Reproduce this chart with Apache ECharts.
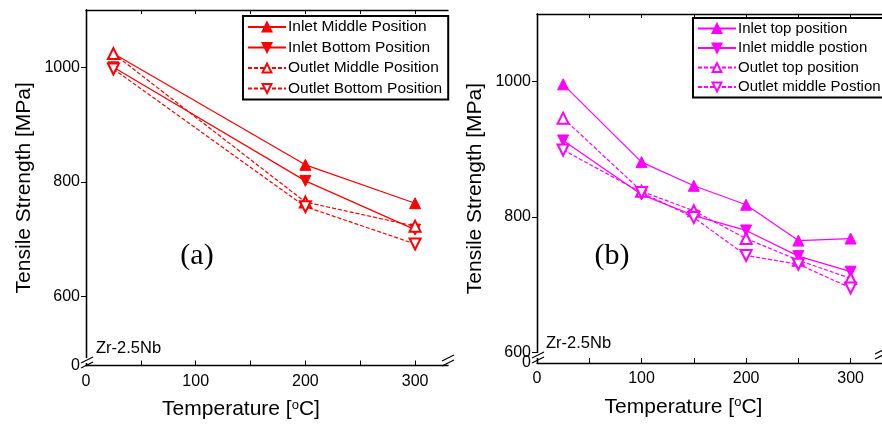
<!DOCTYPE html>
<html>
<head>
<meta charset="utf-8">
<script src="https://cdn.jsdelivr.net/npm/echarts@6/dist/echarts.min.js"></script>
<style>
  html, body { margin: 0; padding: 0; background: #fff; }
  #chart { width: 882px; height: 425px; }
</style>
</head>
<body>
<div id="chart"></div>
<script>
// panel (a) - red, 3 temperatures
var tempA = [25, 200, 300];
var inletMiddleA = [1024, 830, 763];
var inletBottomA = [1000, 802, 717];
var outletMiddleA = [1024, 765, 723];
var outletBottomA = [997, 757, 692];

// panel (b) - magenta, 6 temperatures
var tempB = [25, 100, 150, 200, 250, 300];
var inletTopB = [996, 881, 846, 818, 765, 768];
var inletMiddleB = [913, 833, 802, 780, 742, 719];
var outletTopB = [946, 838, 809, 768, 736, 709];
var outletMiddleB = [899, 836, 799, 743, 730, 695];

var xTicks = [0, 50, 100, 150, 200, 250, 300];
var xLabels = [0, 100, 200, 300];
var yTicks = [600, 800, 1000];
var yLabels = [600, 800, 1000];
var yZeroA = 480;   // bottom of broken axis (a), labelled 0
var yZeroB = 584;   // bottom of broken axis (b), labelled 0

var RED = '#ff0000';
var MAG = '#ff00ff';
var FONT = 'Liberation Sans, Arial, sans-serif';

function pts(xs, ys) {
	return xs.map(function (x, i) { return [x, ys[i]]; });
}

function mkSeries(name, xs, ys, color, filled, down, dashed, idx) {
	return {
		name: name,
		type: 'line',
		xAxisIndex: idx,
		yAxisIndex: idx * 3 / 2,
		data: pts(xs, ys),
		symbol: filled ? 'triangle' : 'emptyTriangle',
		symbolSize: 11,
		symbolRotate: down ? 180 : 0,
		showAllSymbol: true,
		itemStyle: { color: color, borderColor: color, borderWidth: 1 },
		lineStyle: { color: color, width: 1.2, type: dashed ? [4, 2] : 'solid' },
		z: filled ? 2 : 3
	};
}

function bottomX(grid) {
	return {
		gridIndex: grid, type: 'value', min: 0, max: 330, position: 'bottom',
		axisLine: { lineStyle: { color: '#000', width: 1.3 } },
		axisTick: { inside: true, length: 5, customValues: xTicks, lineStyle: { color: '#000' } },
		axisLabel: {
			customValues: xLabels, color: '#000', fontSize: 16, fontFamily: FONT, margin: 8,
			formatter: function (v) { return String(v); }
		},
		splitLine: { show: false },
		name: 'Temperature [{sup|o}C]',
		nameLocation: 'middle',
		nameGap: 33,
		nameTextStyle: {
			color: '#000', fontSize: 21, fontFamily: FONT, padding: [0, 52, 0, 0],
			rich: { sup: { fontSize: 13, verticalAlign: 'top', padding: [0, 0, 9, 0], fontFamily: FONT, color: '#000' } }
		}
	};
}

function topX(grid) {
	return {
		gridIndex: grid, type: 'value', min: 0, max: 330, position: 'top',
		axisLine: { lineStyle: { color: '#000', width: 1.3 } },
		axisTick: { inside: true, length: 4, customValues: xTicks, lineStyle: { color: '#000' } },
		axisLabel: { show: false },
		splitLine: { show: false }
	};
}

function leftY(grid, min) {
	return {
		gridIndex: grid, type: 'value', min: min, max: 1100, position: 'left',
		axisLine: { lineStyle: { color: '#000', width: 1.3 } },
		axisTick: { inside: false, length: 5, customValues: yTicks, lineStyle: { color: '#000' } },
		axisLabel: {
			customValues: yLabels, color: '#000', fontSize: 16, fontFamily: FONT, margin: 6,
			formatter: function (v) { return String(v); }
		},
		splitLine: { show: false },
		name: 'Tensile Strength [MPa]',
		nameLocation: 'middle',
		nameGap: 51,
		nameTextStyle: { color: '#000', fontSize: 21, fontFamily: FONT }
	};
}

function rightY(grid, min) {
	return {
		gridIndex: grid, type: 'value', min: min, max: 1100, position: 'right',
		axisLine: { lineStyle: { color: '#000', width: 1.3 } },
		axisTick: { inside: true, length: 4, customValues: yTicks, lineStyle: { color: '#000' } },
		axisLabel: { show: false },
		splitLine: { show: false }
	};
}

/* only carries the "0" under the axis break */
function zeroY(grid, min) {
	return {
		gridIndex: grid, type: 'value', min: min, max: 1100, position: 'left',
		axisLine: { show: false },
		axisTick: { show: false },
		axisLabel: {
			customValues: [min], color: '#000', fontSize: 16, fontFamily: FONT, margin: 6,
			formatter: function () { return '0'; }
		},
		splitLine: { show: false }
	};
}

/* small // marks for the broken axes */
function breakMark(x, y) {
	return [
		{ type: 'rect', shape: { x: x - 3, y: y - 4, width: 6, height: 5 }, style: { fill: '#fff' }, z: 100 },
		{ type: 'line', shape: { x1: x - 6, y1: y + 1, x2: x + 6, y2: y - 5 }, style: { stroke: '#000', lineWidth: 1.2 }, z: 101 },
		{ type: 'line', shape: { x1: x - 6, y1: y + 6, x2: x + 6, y2: y }, style: { stroke: '#000', lineWidth: 1.2 }, z: 101 }
	];
}

function legendCfg(names, left, top, fs) {
	return {
		data: names,
		orient: 'vertical',
		left: left,
		top: top,
		padding: [3, 6, 3, 4],
		itemWidth: 38,
		itemHeight: 11,
		itemGap: 4.5,
		borderColor: '#000',
		borderWidth: 2,
		backgroundColor: '#fff',
		textStyle: { color: '#000', fontSize: fs, lineHeight: 14, fontFamily: FONT, padding: [0, 0, 0, -3] }
	};
}

var chart = echarts.init(document.getElementById('chart'));

var graphics = []
	.concat(breakMark(87, 362))
	.concat(breakMark(448, 360))
	.concat(breakMark(538, 357))
	.concat(breakMark(881, 353))
	.concat([
		{ type: 'text', x: 197, y: 256, style: { text: '(a)', font: '30px "Liberation Serif", serif', fill: '#000', textAlign: 'center', textVerticalAlign: 'middle' }, z: 50 },
		{ type: 'text', x: 612, y: 256, style: { text: '(b)', font: '30px "Liberation Serif", serif', fill: '#000', textAlign: 'center', textVerticalAlign: 'middle' }, z: 50 },
		{ type: 'text', x: 96, y: 348, style: { text: 'Zr-2.5Nb', font: '16.5px "Liberation Sans", Arial, sans-serif', fill: '#000', textVerticalAlign: 'middle' }, z: 50 },
		{ type: 'text', x: 546, y: 343, style: { text: 'Zr-2.5Nb', font: '16.5px "Liberation Sans", Arial, sans-serif', fill: '#000', textVerticalAlign: 'middle' }, z: 50 }
	]);

var option = {
	animation: false,
	backgroundColor: '#fff',
	grid: [
		{ left: 86, top: 10, width: 362, height: 358 },
		{ left: 537, top: 14, width: 346, height: 349 }
	],
	legend: [
		legendCfg(['Inlet Middle Position', 'Inlet Bottom Position', 'Outlet Middle Position', 'Outlet Bottom Position'], 243, 16, 15.5),
		legendCfg(['Inlet top position', 'Inlet middle postion', 'Outlet top position', 'Outlet middle Postion'], 693, 18, 15)
	],
	xAxis: [bottomX(0), topX(0), bottomX(1), topX(1)],
	yAxis: [
		leftY(0, yZeroA), rightY(0, yZeroA), zeroY(0, yZeroA),
		leftY(1, yZeroB), rightY(1, yZeroB), zeroY(1, yZeroB)
	],
	series: [
		mkSeries('Inlet Middle Position', tempA, inletMiddleA, RED, true, false, false, 0),
		mkSeries('Inlet Bottom Position', tempA, inletBottomA, RED, true, true, false, 0),
		mkSeries('Outlet Middle Position', tempA, outletMiddleA, RED, false, false, true, 0),
		mkSeries('Outlet Bottom Position', tempA, outletBottomA, RED, false, true, true, 0),
		mkSeries('Inlet top position', tempB, inletTopB, MAG, true, false, false, 2),
		mkSeries('Inlet middle postion', tempB, inletMiddleB, MAG, true, true, false, 2),
		mkSeries('Outlet top position', tempB, outletTopB, MAG, false, false, true, 2),
		mkSeries('Outlet middle Postion', tempB, outletMiddleB, MAG, false, true, true, 2)
	],
	graphic: graphics
};

chart.setOption(option);
</script>
</body>
</html>
